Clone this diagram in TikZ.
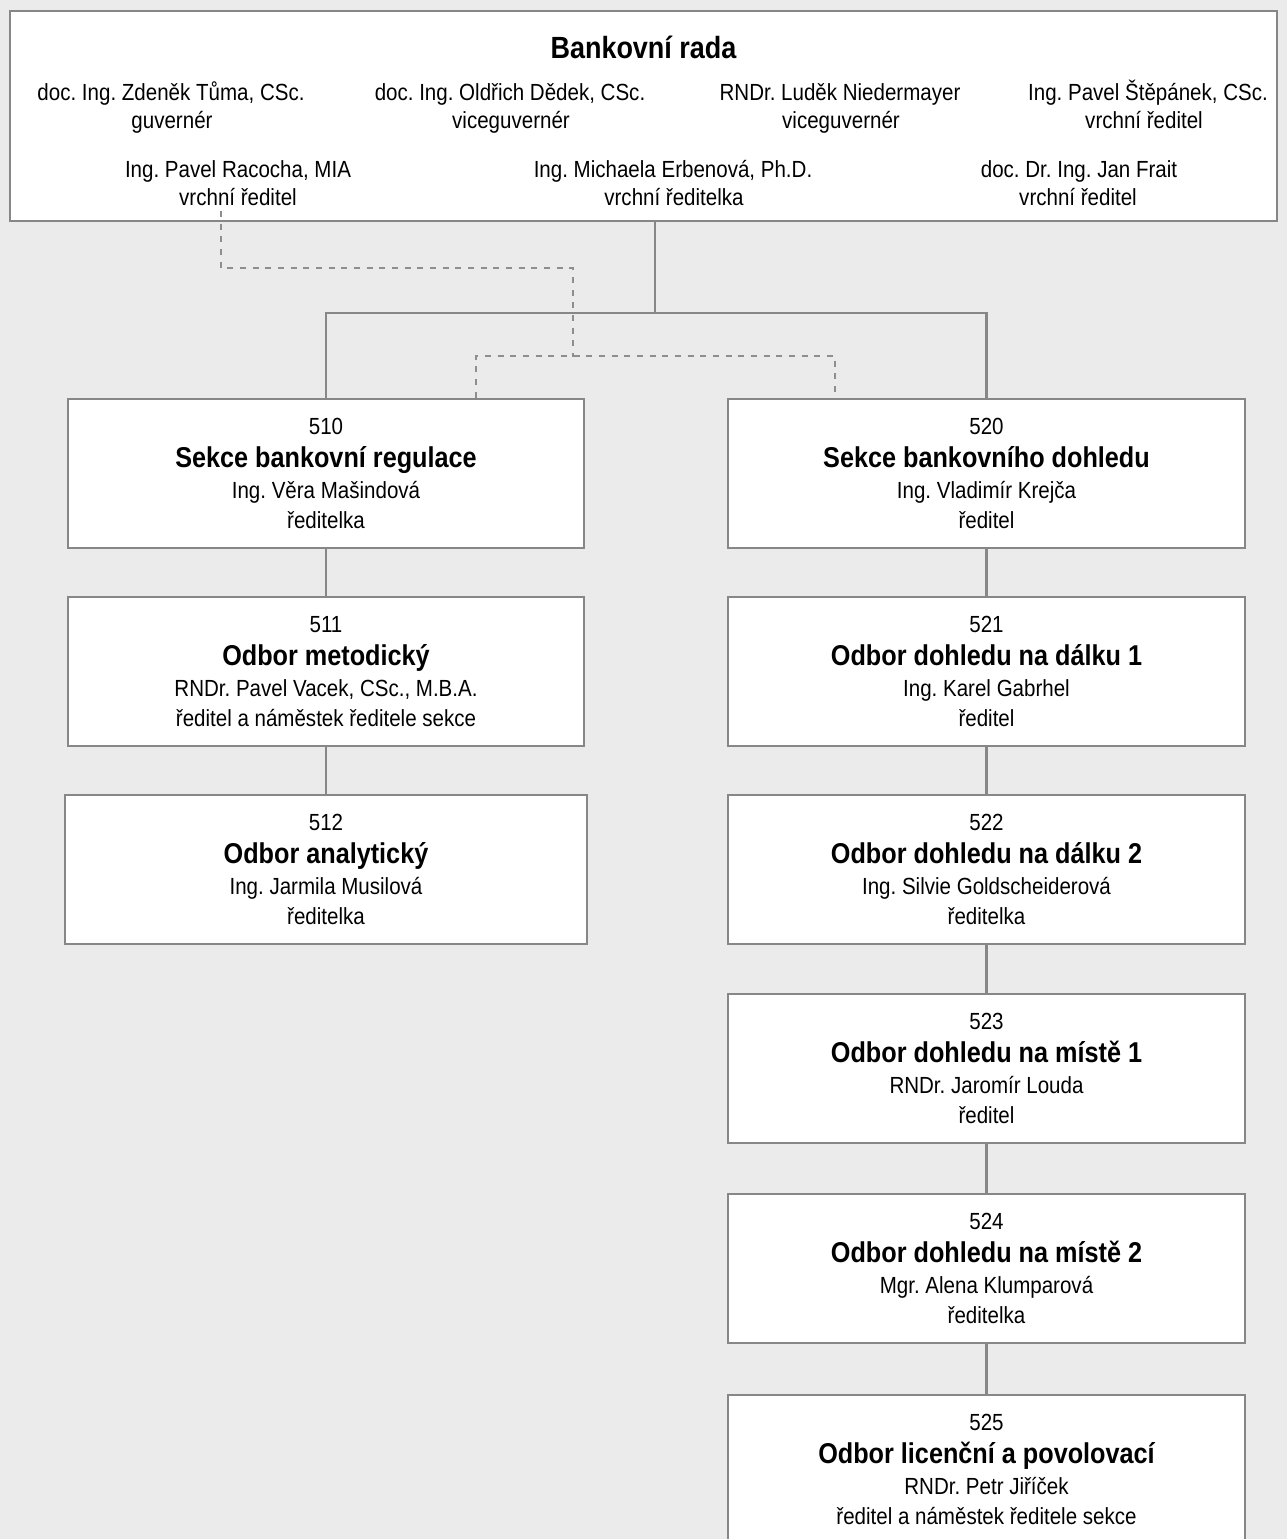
\documentclass[tikz,border=0pt]{standalone}
\usepackage{fontspec}
\setmainfont{Liberation Sans}[FakeStretch=0.88]
\usetikzlibrary{calc}
\definecolor{bgc}{HTML}{EBEBEB}
\definecolor{lineg}{HTML}{878787}
\definecolor{dashg}{HTML}{8E8E8E}
\newcommand\regf{\frenchspacing\fontsize{17.5pt}{23pt}\selectfont}
\newcommand\boldf{\fontsize{21.5pt}{24pt}\selectfont\bfseries}
\newcommand\titlef{\fontsize{23pt}{26pt}\selectfont\bfseries}
\tikzset{
  box/.style={draw=lineg, line width=2pt, fill=white, align=center, inner sep=0pt, font=\regf},
  pers/.style={anchor=base, inner sep=0pt, font=\regf},
  conn/.style={draw=lineg, line width=2pt},
  dconn/.style={draw=dashg, line width=1.6pt, dash pattern=on 4.5pt off 5pt},
}
\begin{document}
\frenchspacing
\begin{tikzpicture}[x=0.75pt,y=-0.75pt]
\useasboundingbox (0,0) rectangle (1287,1539);
\fill[bgc] (0,0) rectangle (1287,1539);
\clip (0,0) rectangle (1287,1539);
% top box
\node[box, minimum width=950.25pt, minimum height=157.5pt] (rada) at (643.5,116) {};
\node[pers, font=\titlef] (title) at (643.5,58) {Bankovní rada};
\node[pers] (p1n) at (171,100) {doc. Ing. Zdeněk Tůma, CSc.};
\node[pers] (p1r) at (172,128) {guvernér};
\node[pers] (p2n) at (510,100) {doc. Ing. Oldřich Dědek, CSc.};
\node[pers] (p2r) at (511,128) {viceguvernér};
\node[pers] (p3n) at (840,100) {RNDr. Luděk Niedermayer};
\node[pers] (p3r) at (841,128) {viceguvernér};
\node[pers] (p4n) at (1148,100) {Ing. Pavel Štěpánek, CSc.};
\node[pers] (p4r) at (1144,128) {vrchní ředitel};
\node[pers] (p5n) at (238,177) {Ing. Pavel Racocha, MIA};
\node[pers] (p5r) at (238,205) {vrchní ředitel};
\node[pers] (p6n) at (673,177) {Ing. Michaela Erbenová, Ph.D.};
\node[pers] (p6r) at (674,205) {vrchní ředitelka};
\node[pers] (p7n) at (1079,177) {doc. Dr. Ing. Jan Frait};
\node[pers] (p7r) at (1078,205) {vrchní ředitel};
% left column
\node[box, minimum width=387pt, minimum height=111.75pt] (b510) at (326,473.5)
  {510\\[2pt]{\boldf Sekce bankovní regulace}\\Ing. Věra Mašindová\\ředitelka};
\node[box, minimum width=387pt, minimum height=111.75pt] (b511) at (326,671.5)
  {511\\[2pt]{\boldf Odbor metodický}\\RNDr. Pavel Vacek, CSc., M.B.A.\\ředitel a náměstek ředitele sekce};
\node[box, minimum width=391.5pt, minimum height=111.75pt] (b512) at (326,869.5)
  {512\\[2pt]{\boldf Odbor analytický}\\Ing. Jarmila Musilová\\ředitelka};
% right column
\node[box, minimum width=387.75pt, minimum height=111.75pt] (b520) at (986.5,473.5)
  {520\\[2pt]{\boldf Sekce bankovního dohledu}\\Ing. Vladimír Krejča\\ředitel};
\node[box, minimum width=387.75pt, minimum height=111.75pt] (b521) at (986.5,671.5)
  {521\\[2pt]{\boldf Odbor dohledu na dálku 1}\\Ing. Karel Gabrhel\\ředitel};
\node[box, minimum width=387.75pt, minimum height=111.75pt] (b522) at (986.5,869.5)
  {522\\[2pt]{\boldf Odbor dohledu na dálku 2}\\Ing. Silvie Goldscheiderová\\ředitelka};
\node[box, minimum width=387.75pt, minimum height=111.75pt] (b523) at (986.5,1068.5)
  {523\\[2pt]{\boldf Odbor dohledu na místě 1}\\RNDr. Jaromír Louda\\ředitel};
\node[box, minimum width=387.75pt, minimum height=111.75pt] (b524) at (986.5,1268.5)
  {524\\[2pt]{\boldf Odbor dohledu na místě 2}\\Mgr. Alena Klumparová\\ředitelka};
\node[box, minimum width=387.75pt, minimum height=111.75pt] (b525) at (986.5,1469.5)
  {525\\[2pt]{\boldf Odbor licenční a povolovací}\\RNDr. Petr Jiříček\\ředitel a náměstek ředitele sekce};
% solid connectors
\coordinate (jt) at (655,313);
\draw[conn] ($(rada.south)+(11.5,0)$) -- (jt);
\draw[conn] (jt) -| (b510.north);
\draw[conn] (jt) -| (b520.north);
\draw[conn] (b510.south) -- (b511.north);
\draw[conn] (b511.south) -- (b512.north);
\draw[conn] (b520.south) -- (b521.north);
\draw[conn] (b521.south) -- (b522.north);
\draw[conn] (b522.south) -- (b523.north);
\draw[conn] (b523.south) -- (b524.north);
\draw[conn] (b524.south) -- (b525.north);
% dashed connectors
\coordinate (dtop) at (221,211);
\coordinate (dmid) at (573,357);
\draw[dconn] (dtop) |- (573,268) -- (dmid);
\draw[dconn] ($(b510.north east)+(-109,0)$) |- ($(b520.north west)+(108,-42)$) -- ($(b520.north west)+(108,0)$);
\end{tikzpicture}
\end{document}
